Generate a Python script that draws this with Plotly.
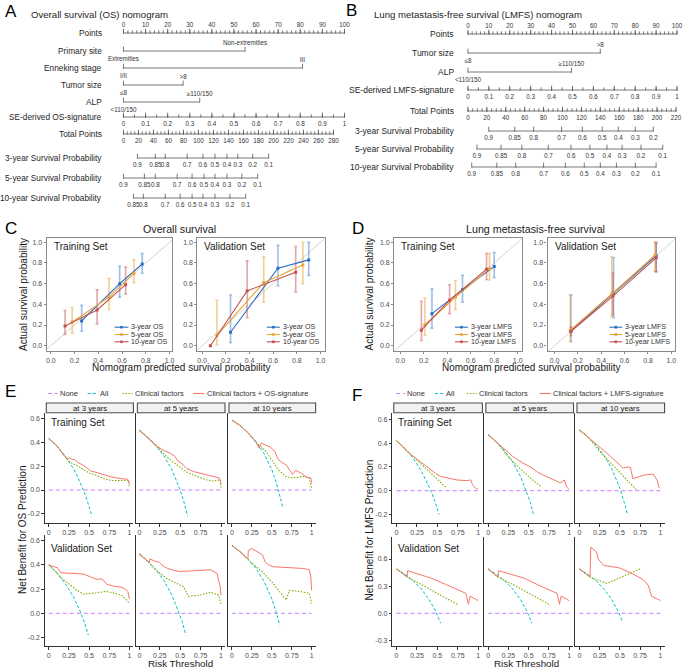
import plotly.graph_objects as go

W, H = 685, 668
FONT = "Arial, Liberation Sans, Helvetica, sans-serif"

# ============================ DATA ============================
# ---- Panel A : Overall survival (OS) nomogram ----
A_POINTS_TICKS = [0, 10, 20, 30, 40, 50, 60, 70, 80, 90, 100]
A_PRIMARY_LEVELS = ["Extremities", "Non-extremities"]
A_PRIMARY_POINTS = [0, 55]
A_ENNEKING_LEVELS = ["I/II", "III"]
A_ENNEKING_POINTS = [0, 81]
A_TUMOR_LEVELS = ["≤8", ">8"]
A_TUMOR_POINTS = [0, 27]
A_ALP_LEVELS = ["<110/150", "≥110/150"]
A_ALP_POINTS = [0, 34.5]
A_SIG_TICKS = [0, 0.1, 0.2, 0.3, 0.4, 0.5, 0.6, 0.7, 0.8, 0.9, 1]
A_SIG_LABELS = ["0", "0.1", "0.2", "0.3", "0.4", "0.5", "0.6", "0.7", "0.8", "0.9", "1"]
A_TOTAL_TICKS = [0, 20, 40, 60, 80, 100, 120, 140, 160, 180, 200, 220, 240, 260, 280]
A_SURV_3Y_LABELS = ["0.9", "0.85", "0.8", "0.7", "0.6", "0.5", "0.4", "0.3", "0.2", "0.1"]
A_SURV_3Y_TOTAL = [18.6, 42.4, 55.7, 84.9, 106, 122, 138, 152.5, 172.4, 193.6]
A_SURV_5Y_LABELS = ["0.9", "0.85", "0.8", "0.7", "0.6", "0.5", "0.4", "0.3", "0.2", "0.1"]
A_SURV_5Y_TOTAL = [0, 27.9, 42.4, 71.6, 91.5, 107.4, 122, 138, 157.8, 179]
A_SURV_10Y_LABELS = ["0.85", "0.8", "0.7", "0.6", "0.5", "0.4", "0.3", "0.2", "0.1"]
A_SURV_10Y_TOTAL = [13.3, 26.5, 55.7, 75.6, 91.5, 106, 122, 142, 163]

# ---- Panel B : Lung metastasis-free survival (LMFS) nomogram ----
B_POINTS_TICKS = [0, 10, 20, 30, 40, 50, 60, 70, 80, 90, 100]
B_TUMOR_LEVELS = ["≤8", ">8"]
B_TUMOR_POINTS = [0, 63.3]
B_ALP_LEVELS = ["<110/150", "≥110/150"]
B_ALP_POINTS = [0, 49.5]
B_SIG_TICKS = [0, 0.1, 0.2, 0.3, 0.4, 0.5, 0.6, 0.7, 0.8, 0.9, 1]
B_SIG_LABELS = ["0", "0.1", "0.2", "0.3", "0.4", "0.5", "0.6", "0.7", "0.8", "0.9", "1"]
B_TOTAL_TICKS = [0, 20, 40, 60, 80, 100, 120, 140, 160, 180, 200, 220]
B_SURV_3Y_LABELS = ["0.9", "0.85", "0.8", "0.7", "0.6", "0.5", "0.4", "0.3", "0.2"]
B_SURV_3Y_TOTAL = [22, 49.5, 69.5, 99, 121, 142, 159, 177, 196]
B_SURV_5Y_LABELS = ["0.9", "0.85", "0.8", "0.7", "0.6", "0.5", "0.4", "0.3", "0.2", "0.1"]
B_SURV_5Y_TOTAL = [9.5, 35, 57, 85, 109, 129, 147, 163, 183, 206]
B_SURV_10Y_LABELS = ["0.9", "0.85", "0.8", "0.7", "0.6", "0.5", "0.4", "0.3", "0.2", "0.1"]
B_SURV_10Y_TOTAL = [4, 30.5, 50.5, 80, 103, 123, 140, 157, 177, 199]

# ---- Panels C / D : calibration curves (series order: 3y, 5y, 10y) ----
CAL_NAMES_OS = ["3-year OS", "5-year OS", "10-year OS"]
CAL_NAMES_LMFS = ["3-year LMFS", "5-year LMFS", "10-year LMFS"]
CAL_TICKS = [0, 0.2, 0.4, 0.6, 0.8, 1.0]

C_TRAIN_PRED = [[0.26, 0.58, 0.77], [0.18, 0.49, 0.70], [0.12, 0.39, 0.63]]
C_TRAIN_OBS = [[0.24, 0.60, 0.79], [0.23, 0.47, 0.70], [0.19, 0.345, 0.59]]
C_TRAIN_LO = [[0.14, 0.47, 0.70], [0.12, 0.35, 0.61], [0.11, 0.21, 0.50]]
C_TRAIN_HI = [[0.39, 0.77, 0.89], [0.37, 0.65, 0.83], [0.34, 0.54, 0.76]]

C_VALID_PRED = [[0.24, 0.64, 0.90], [0.125, 0.52, 0.85], [0.07, 0.38, 0.79]]
C_VALID_OBS = [[0.13, 0.75, 0.83], [0.10, 0.61, 0.78], [0.0, 0.53, 0.71]]
C_VALID_LO = [[0.03, 0.58, 0.68], [0.01, 0.42, 0.60], [0.0, 0.27, 0.52]]
C_VALID_HI = [[0.49, 0.97, 1.0], [0.44, 0.86, 1.0], [0.0, 0.82, 0.96]]

D_TRAIN_PRED = [[0.27, 0.53, 0.80], [0.21, 0.47, 0.76], [0.18, 0.42, 0.735]]
D_TRAIN_OBS = [[0.31, 0.54, 0.765], [0.20, 0.47, 0.745], [0.15, 0.44, 0.74]]
D_TRAIN_LO = [[0.17, 0.42, 0.66], [0.10, 0.35, 0.635], [0.05, 0.31, 0.64]]
D_TRAIN_HI = [[0.55, 0.68, 0.90], [0.46, 0.63, 0.89], [0.43, 0.59, 0.89]]

D_VALID_PRED = [[0.14, 0.505, 0.87], [0.135, 0.49, 0.86], [0.14, 0.50, 0.87]]
D_VALID_OBS = [[0.14, 0.51, 0.87], [0.15, 0.50, 0.875], [0.14, 0.48, 0.85]]
D_VALID_LO = [[0.04, 0.27, 0.72], [0.04, 0.28, 0.72], [0.10, 0.30, 0.71]]
D_VALID_HI = [[0.49, 0.85, 1.0], [0.49, 0.86, 1.0], [0.18, 0.70, 0.99]]

# ---- Panels E / F : decision curves, (risk threshold, net benefit) ----
DCA_FACETS = ["at 3 years", "at 5 years", "at 10 years"]
DCA_X_TICKS = [0, 0.25, 0.5, 0.75, 1]
DCA_X_LABELS = ["0", "0.25", "0.5", "0.75", "1"]
NONE_CURVE = [(0, 0), (1, 0)]

E_TRAIN_ALL = [
    [(0, 0.43), (0.1, 0.367), (0.2, 0.288), (0.3, 0.186), (0.35, 0.123), (0.4, 0.05), (0.45, -0.036), (0.5, -0.14), (0.535, -0.22)],
    [(0, 0.5), (0.1, 0.444), (0.2, 0.375), (0.3, 0.286), (0.4, 0.167), (0.45, 0.09), (0.5, 0.0), (0.55, -0.11), (0.59, -0.22)],
    [(0, 0.585), (0.1, 0.54), (0.2, 0.48), (0.3, 0.407), (0.4, 0.308), (0.5, 0.17), (0.56, 0.057), (0.6, -0.037), (0.64, -0.153)],
]
E_TRAIN_CLIN = [
    [(0, 0.43), (0.1, 0.37), (0.2, 0.28), (0.25, 0.24), (0.3, 0.22), (0.35, 0.205), (0.43, 0.17), (0.51, 0.14), (0.6, 0.12), (0.7, 0.09), (0.78, 0.08), (0.9, 0.08), (0.99, 0.08), (1.0, 0.02)],
    [(0, 0.5), (0.1, 0.44), (0.2, 0.37), (0.3, 0.3), (0.35, 0.27), (0.42, 0.23), (0.5, 0.19), (0.58, 0.15), (0.66, 0.125), (0.75, 0.1), (0.82, 0.085), (0.9, 0.075), (0.99, 0.085), (1.0, 0.02)],
    [(0, 0.585), (0.1, 0.54), (0.2, 0.48), (0.3, 0.40), (0.35, 0.37), (0.43, 0.32), (0.5, 0.25), (0.58, 0.17), (0.68, 0.11), (0.76, 0.10), (0.82, 0.105), (0.89, 0.115), (0.97, 0.10), (1.0, 0.01)],
]
E_TRAIN_COMB = [
    [(0, 0.43), (0.1, 0.37), (0.2, 0.28), (0.23, 0.26), (0.26, 0.27), (0.29, 0.255), (0.32, 0.255), (0.36, 0.23), (0.42, 0.21), (0.48, 0.18), (0.52, 0.16), (0.6, 0.145), (0.7, 0.125), (0.8, 0.105), (0.9, 0.095), (0.98, 0.09), (1.0, 0.05)],
    [(0, 0.5), (0.1, 0.44), (0.2, 0.375), (0.3, 0.33), (0.37, 0.31), (0.44, 0.28), (0.46, 0.25), (0.52, 0.22), (0.58, 0.18), (0.66, 0.155), (0.74, 0.14), (0.82, 0.125), (0.9, 0.11), (0.98, 0.10), (1.0, 0.05)],
    [(0, 0.585), (0.1, 0.54), (0.2, 0.48), (0.3, 0.40), (0.34, 0.35), (0.37, 0.395), (0.42, 0.375), (0.48, 0.36), (0.54, 0.32), (0.58, 0.255), (0.63, 0.23), (0.68, 0.21), (0.74, 0.15), (0.76, 0.13), (0.8, 0.165), (0.84, 0.15), (0.87, 0.14), (0.93, 0.11), (0.99, 0.10), (1.0, 0.055)],
]
E_VALID_ALL = [
    [(0, 0.40), (0.1, 0.333), (0.2, 0.25), (0.3, 0.143), (0.38, 0.03), (0.4, 0.0), (0.45, -0.09), (0.49, -0.18)],
    [(0, 0.49), (0.1, 0.433), (0.2, 0.362), (0.3, 0.271), (0.4, 0.15), (0.48, 0.01), (0.52, -0.06), (0.57, -0.18)],
    [(0, 0.56), (0.1, 0.51), (0.2, 0.45), (0.3, 0.371), (0.4, 0.267), (0.5, 0.12), (0.55, 0.02), (0.6, -0.1)],
]
E_VALID_CLIN = [
    [(0, 0.40), (0.08, 0.35), (0.16, 0.29), (0.25, 0.24), (0.35, 0.19), (0.43, 0.16), (0.55, 0.165), (0.64, 0.175), (0.72, 0.18), (0.82, 0.165), (0.9, 0.15), (0.95, 0.12), (0.98, 0.10), (1.0, 0.08)],
    [(0, 0.49), (0.1, 0.43), (0.2, 0.36), (0.25, 0.33), (0.33, 0.29), (0.42, 0.26), (0.54, 0.22), (0.6, 0.14), (0.67, 0.145), (0.74, 0.15), (0.87, 0.175), (0.97, 0.15), (1.0, 0.08)],
    [(0, 0.56), (0.1, 0.51), (0.19, 0.45), (0.3, 0.39), (0.4, 0.33), (0.5, 0.26), (0.56, 0.21), (0.62, 0.16), (0.68, 0.11), (0.72, 0.19), (0.8, 0.185), (0.9, 0.175), (0.97, 0.165), (1.0, 0.08)],
]
E_VALID_COMB = [
    [(0, 0.40), (0.08, 0.38), (0.11, 0.375), (0.15, 0.335), (0.25, 0.33), (0.43, 0.325), (0.52, 0.30), (0.6, 0.28), (0.66, 0.285), (0.72, 0.24), (0.8, 0.225), (0.9, 0.215), (0.95, 0.20), (0.98, 0.18), (1.0, 0.12)],
    [(0, 0.49), (0.1, 0.43), (0.12, 0.42), (0.13, 0.45), (0.19, 0.43), (0.25, 0.42), (0.29, 0.39), (0.35, 0.37), (0.42, 0.355), (0.5, 0.345), (0.7, 0.35), (0.87, 0.36), (0.95, 0.33), (0.99, 0.22), (1.0, 0.15)],
    [(0, 0.56), (0.1, 0.51), (0.2, 0.45), (0.205, 0.52), (0.25, 0.535), (0.32, 0.51), (0.38, 0.485), (0.42, 0.42), (0.46, 0.40), (0.52, 0.385), (0.72, 0.38), (0.9, 0.37), (0.97, 0.36), (0.99, 0.30), (1.0, 0.19)],
]
F_TRAIN_ALL = [
    [(0, 0.42), (0.1, 0.356), (0.2, 0.275), (0.3, 0.171), (0.42, 0.0), (0.47, -0.09), (0.52, -0.2)],
    [(0, 0.47), (0.1, 0.411), (0.2, 0.338), (0.3, 0.243), (0.4, 0.117), (0.47, 0.0), (0.52, -0.1), (0.56, -0.2)],
    [(0, 0.51), (0.1, 0.456), (0.2, 0.388), (0.3, 0.30), (0.4, 0.183), (0.5, 0.02), (0.55, -0.09), (0.59, -0.19)],
]
F_TRAIN_CLIN = [
    [(0, 0.42), (0.1, 0.355), (0.24, 0.27), (0.38, 0.18), (0.5, 0.10), (0.6, 0.03)],
    [(0, 0.47), (0.1, 0.41), (0.23, 0.30), (0.4, 0.18), (0.55, 0.09), (0.66, 0.03)],
    [(0, 0.51), (0.1, 0.455), (0.25, 0.33), (0.46, 0.18), (0.6, 0.08), (0.7, 0.01)],
]
F_TRAIN_COMB = [
    [(0, 0.42), (0.13, 0.33), (0.24, 0.27), (0.34, 0.215), (0.42, 0.17), (0.48, 0.145), (0.54, 0.12), (0.64, 0.105), (0.74, 0.09), (0.85, 0.085), (0.91, 0.09), (0.93, 0.05), (0.97, 0.02), (1.0, 0.01)],
    [(0, 0.47), (0.1, 0.41), (0.2, 0.35), (0.3, 0.29), (0.42, 0.235), (0.47, 0.22), (0.52, 0.20), (0.6, 0.16), (0.68, 0.13), (0.8, 0.095), (0.89, 0.065), (0.94, 0.09), (0.97, 0.03), (1.0, 0.01)],
    [(0, 0.51), (0.1, 0.455), (0.21, 0.39), (0.38, 0.29), (0.54, 0.19), (0.6, 0.20), (0.63, 0.195), (0.66, 0.10), (0.72, 0.115), (0.79, 0.13), (0.91, 0.14), (0.96, 0.09), (0.98, 0.03), (1.0, 0.02)],
]
F_VALID_ALL = [
    [(0, 0.49), (0.1, 0.433), (0.2, 0.3625), (0.3, 0.271), (0.4, 0.15), (0.48, 0.02), (0.54, -0.11)],
    [(0, 0.49), (0.1, 0.433), (0.2, 0.3625), (0.3, 0.271), (0.4, 0.15), (0.48, 0.02), (0.54, -0.11)],
    [(0, 0.49), (0.1, 0.433), (0.2, 0.3625), (0.3, 0.271), (0.4, 0.15), (0.48, 0.02), (0.53, -0.09)],
]
F_VALID_CLIN = [
    [(0, 0.49), (0.13, 0.40), (0.3, 0.32), (0.5, 0.22), (0.65, 0.15), (0.76, 0.09)],
    [(0, 0.49), (0.12, 0.40), (0.3, 0.32), (0.5, 0.22), (0.65, 0.15), (0.77, 0.09)],
    [(0, 0.49), (0.13, 0.40), (0.34, 0.33), (0.55, 0.41), (0.75, 0.49)],
]
F_VALID_COMB = [
    [(0, 0.49), (0.13, 0.40), (0.135, 0.47), (0.25, 0.44), (0.42, 0.39), (0.6, 0.32), (0.75, 0.26), (0.85, 0.22), (0.88, 0.10), (0.9, 0.19), (1.0, 0.14)],
    [(0, 0.49), (0.12, 0.40), (0.13, 0.47), (0.25, 0.44), (0.44, 0.39), (0.6, 0.32), (0.75, 0.26), (0.85, 0.22), (0.88, 0.10), (0.9, 0.19), (1.0, 0.14)],
    [(0, 0.49), (0.13, 0.40), (0.14, 0.73), (0.21, 0.68), (0.23, 0.60), (0.3, 0.53), (0.5, 0.50), (0.65, 0.44), (0.79, 0.37), (0.85, 0.31), (0.89, 0.19), (1.0, 0.14)],
]

# ============================ STYLE ============================
NOMO_GRAY = "#555555"
TXT = "#1a1a1a"
TICK_TXT = "#4d4d4d"
FRAME = "#8a8a8a"
CAL_COLORS = ["#2a6fc2", "#e9a43a", "#c5504d"]
CAL_BAR_COLORS = ["rgba(42,111,194,0.45)", "rgba(233,164,58,0.55)", "rgba(197,80,77,0.5)"]
C_NONE, C_ALL, C_CLIN, C_COMB = "#C77CFF", "#00BFC4", "#7CAE00", "#F8766D"
D_NONE, D_ALL, D_CLIN = "4px,3px", "3px,2px", "1.5px,1.5px"


def fx(p):
    return p / W


def fy(p):
    return 1 - p / H


def lin_range(v0, p0, v1, p1, d0, d1):
    k = (v1 - v0) / (p1 - p0)
    return [v0 + (d0 - p0) * k, v0 + (d1 - p0) * k]


fig = go.Figure()
axes = {}
shapes = []
annots = []
count = [0]


def new_axes(dx, dy, xr, yr):
    """dx=(left,right) px, dy=(top,bottom) px"""
    count[0] += 1
    s = "" if count[0] == 1 else str(count[0])
    xa = dict(domain=[max(0, fx(dx[0])), min(1, fx(dx[1]))], range=xr, anchor="y" + s, visible=False, fixedrange=True)
    ya = dict(domain=[max(0, fy(dy[1])), min(1, fy(dy[0]))], range=yr, anchor="x" + s, visible=False, fixedrange=True)
    axes["xaxis" + s] = xa
    axes["yaxis" + s] = ya
    return "x" + s, "y" + s, xa, ya


def text_ann(x, y, text, size, color=TXT, xanchor="center", yanchor="middle", angle=0):
    annots.append(dict(x=fx(x), y=fy(y), xref="paper", yref="paper", text=text, showarrow=False,
                       xanchor=xanchor, yanchor=yanchor, textangle=angle, borderpad=0,
                       font=dict(family=FONT, size=size, color=color)))


# ============================ NOMOGRAMS ============================
def nomo_line(xa, ya, x0, x1, y):
    fig.add_trace(go.Scatter(x=[x0, x1], y=[y, y], mode="lines", xaxis=xa, yaxis=ya,
                             line=dict(color=NOMO_GRAY, width=0.8), hoverinfo="skip", cliponaxis=False))


def nomo_ticks(xa, ya, xs, y, size):
    fig.add_trace(go.Scatter(x=xs, y=[y - size / 2.0] * len(xs), mode="markers", xaxis=xa, yaxis=ya,
                             marker=dict(symbol="line-ns-open", size=size, color=NOMO_GRAY,
                                         line=dict(color=NOMO_GRAY, width=0.8)),
                             hoverinfo="skip", cliponaxis=False))


def nomo_text(xa, ya, xs, ys, labels, size=6.3):
    fig.add_trace(go.Scatter(x=xs, y=ys, text=labels, mode="text", textposition="middle center",
                             xaxis=xa, yaxis=ya, textfont=dict(family=FONT, size=size, color="#333333"),
                             hoverinfo="skip", cliponaxis=False))


def nomo_points_row(xa, ya, y, ticks):
    nomo_line(xa, ya, ticks[0], ticks[-1], y)
    minor = [v for v in range(int(ticks[0]), int(ticks[-1]) + 1, 2)]
    nomo_ticks(xa, ya, minor, y, 2.2)
    nomo_ticks(xa, ya, ticks, y, 3.6)
    nomo_text(xa, ya, ticks, [y - 7.5] * len(ticks), [str(t) for t in ticks])


def nomo_factor_row(xa, ya, y, levels, points):
    nomo_line(xa, ya, min(points), max(points), y)
    nomo_ticks(xa, ya, points, y, 3.6)
    ys = [y + 8 if i % 2 == 0 else y - 7.5 for i in range(len(points))]
    nomo_text(xa, ya, points, ys, levels)


def nomo_scale_row(xa, ya, y, values, labels, to_points, minor_step=None):
    xs = [v * to_points for v in values]
    nomo_line(xa, ya, min(xs), max(xs), y)
    if minor_step:
        n = int(round((max(values) - min(values)) / minor_step))
        minor = [(min(values) + i * minor_step) * to_points for i in range(n + 1)]
        nomo_ticks(xa, ya, minor, y, 2.2)
    nomo_ticks(xa, ya, xs, y, 3.6)
    nomo_text(xa, ya, xs, [y + 7.5] * len(xs), labels)


# ---- A ----
xa, ya, _, _ = new_axes((0, 345), (0, 215), lin_range(0, 123, 100, 345, 0, 345), [215, 0])
A_TOTAL_TO_POINTS = 95.0 / 280.0
RA = dict(points=33, primary=51, enneking=68, tumor=85, alp=102, sig=117, total=134, s3=158, s5=178, s10=198)
nomo_points_row(xa, ya, RA["points"], A_POINTS_TICKS)
nomo_factor_row(xa, ya, RA["primary"], A_PRIMARY_LEVELS, A_PRIMARY_POINTS)
nomo_factor_row(xa, ya, RA["enneking"], A_ENNEKING_LEVELS, A_ENNEKING_POINTS)
nomo_factor_row(xa, ya, RA["tumor"], A_TUMOR_LEVELS, A_TUMOR_POINTS)
nomo_factor_row(xa, ya, RA["alp"], A_ALP_LEVELS, A_ALP_POINTS)
nomo_scale_row(xa, ya, RA["sig"], A_SIG_TICKS, A_SIG_LABELS, 100.0, 0.05)
nomo_scale_row(xa, ya, RA["total"], A_TOTAL_TICKS, [str(t) for t in A_TOTAL_TICKS], A_TOTAL_TO_POINTS, 5)
nomo_scale_row(xa, ya, RA["s3"], A_SURV_3Y_TOTAL, A_SURV_3Y_LABELS, A_TOTAL_TO_POINTS)
nomo_scale_row(xa, ya, RA["s5"], A_SURV_5Y_TOTAL, A_SURV_5Y_LABELS, A_TOTAL_TO_POINTS)
nomo_scale_row(xa, ya, RA["s10"], A_SURV_10Y_TOTAL, A_SURV_10Y_LABELS, A_TOTAL_TO_POINTS)
for key, lab in [("points", "Points"), ("primary", "Primary site"), ("enneking", "Enneking stage"),
                 ("tumor", "Tumor size"), ("alp", "ALP"), ("sig", "SE-derived OS-signature"),
                 ("total", "Total Points"), ("s3", "3-year Survival Probability"),
                 ("s5", "5-year Survival Probability"), ("s10", "10-year Survival Probability")]:
    text_ann(102.5, RA[key], lab, 8.3, "#262626", xanchor="right")
text_ann(3, 11.5, "A", 17, "#000000", xanchor="left")
text_ann(29, 14.5, "Overall survival (OS) nomogram", 9.6, "#262626", xanchor="left")

# ---- B ----
xa, ya, _, _ = new_axes((345, 685), (0, 215), lin_range(0, 469, 100, 679, 345, 685), [215, 0])
B_TOTAL_TO_POINTS = 99.5 / 220.0
RB = dict(points=34, tumor=53, alp=72, sig=90, total=111, s3=131, s5=149, s10=167)
nomo_points_row(xa, ya, RB["points"], B_POINTS_TICKS)
nomo_factor_row(xa, ya, RB["tumor"], B_TUMOR_LEVELS, B_TUMOR_POINTS)
nomo_factor_row(xa, ya, RB["alp"], B_ALP_LEVELS, B_ALP_POINTS)
nomo_scale_row(xa, ya, RB["sig"], B_SIG_TICKS, B_SIG_LABELS, 100.0, 0.05)
nomo_scale_row(xa, ya, RB["total"], B_TOTAL_TICKS, [str(t) for t in B_TOTAL_TICKS], B_TOTAL_TO_POINTS, 5)
nomo_scale_row(xa, ya, RB["s3"], B_SURV_3Y_TOTAL, B_SURV_3Y_LABELS, B_TOTAL_TO_POINTS)
nomo_scale_row(xa, ya, RB["s5"], B_SURV_5Y_TOTAL, B_SURV_5Y_LABELS, B_TOTAL_TO_POINTS)
nomo_scale_row(xa, ya, RB["s10"], B_SURV_10Y_TOTAL, B_SURV_10Y_LABELS, B_TOTAL_TO_POINTS)
for key, lab in [("points", "Points"), ("tumor", "Tumor size"), ("alp", "ALP"),
                 ("sig", "SE-derived LMFS-signature"), ("total", "Total Points"),
                 ("s3", "3-year Survival Probability"), ("s5", "5-year Survival Probability"),
                 ("s10", "10-year Survival Probability")]:
    text_ann(455.5, RB[key], lab, 8.5, "#262626", xanchor="right")
text_ann(346, 10.5, "B", 17, "#000000", xanchor="left")
text_ann(374, 15, "Lung metastasis-free survival (LMFS) nomogram", 9.6, "#262626", xanchor="left")

# ============================ CALIBRATION ============================
CAL_TOP, CAL_BOT = 237.5, 351


def cal_panel(xdom, x0p, x1p, pred, obs, lo, hi, names, set_label, legend_x):
    xr = lin_range(0, x0p, 1, x1p, xdom[0], xdom[1])
    yr = lin_range(0, 345.7, 1, 242.3, CAL_BOT, CAL_TOP)
    xa, ya, xd, yd = new_axes(xdom, (CAL_TOP, CAL_BOT), xr, yr)
    common = dict(visible=True, showline=True, mirror=True, linecolor=FRAME, linewidth=1.3,
                  ticks="outside", ticklen=2, tickwidth=0.8, tickcolor=FRAME, showgrid=False,
                  zeroline=False, tickfont=dict(family=FONT, size=7, color=TICK_TXT),
                  tickvals=CAL_TICKS, ticktext=["%.1f" % t for t in CAL_TICKS])
    xd.update(common)
    yd.update(common)
    fig.add_trace(go.Scatter(x=[-0.2, 1.2], y=[-0.2, 1.2], mode="lines", xaxis=xa, yaxis=ya,
                             line=dict(color="#c8c8c8", width=0.8), hoverinfo="skip"))
    for i in range(3):
        fig.add_trace(go.Scatter(
            x=pred[i], y=obs[i], mode="markers", xaxis=xa, yaxis=ya, hoverinfo="skip",
            marker=dict(size=1, opacity=0),
            error_y=dict(type="data", symmetric=False,
                         array=[h - o for h, o in zip(hi[i], obs[i])],
                         arrayminus=[o - l for o, l in zip(obs[i], lo[i])],
                         color=CAL_BAR_COLORS[i], thickness=1.6, width=1.5)))
    for i in range(3):
        fig.add_trace(go.Scatter(x=pred[i], y=obs[i], mode="lines+markers", xaxis=xa, yaxis=ya,
                                 line=dict(color=CAL_COLORS[i], width=1.1),
                                 marker=dict(color=CAL_COLORS[i], size=3, symbol="square"),
                                 hoverinfo="skip", name=names[i]))
    text_ann(xdom[0] + 6, 246.5, set_label, 10, TXT, xanchor="left")
    lx0, lx1 = legend_x
    for i, yv in enumerate([327.2, 334.5, 341.8]):
        shapes.append(dict(type="line", xref="paper", yref="paper", x0=fx(lx0), x1=fx(lx1),
                           y0=fy(yv), y1=fy(yv), line=dict(color=CAL_COLORS[i], width=1.1)))
        cx = (lx0 + lx1) / 2
        shapes.append(dict(type="rect", xref="paper", yref="paper", x0=fx(cx - 1.3), x1=fx(cx + 1.3),
                           y0=fy(yv + 1.3), y1=fy(yv - 1.3), fillcolor=CAL_COLORS[i], line=dict(width=0)))
        text_ann(lx1 + 2, yv, names[i], 7.1, "#333333", xanchor="left")


cal_panel((46, 172), 50, 169.3, C_TRAIN_PRED, C_TRAIN_OBS, C_TRAIN_LO, C_TRAIN_HI, CAL_NAMES_OS, "Training Set", (114, 128))
cal_panel((197.3, 325), 202, 321, C_VALID_PRED, C_VALID_OBS, C_VALID_LO, C_VALID_HI, CAL_NAMES_OS, "Validation Set", (267, 280))
cal_panel((395, 523.3), 401, 519, D_TRAIN_PRED, D_TRAIN_OBS, D_TRAIN_LO, D_TRAIN_HI, CAL_NAMES_LMFS, "Training Set", (456, 469))
cal_panel((549, 676.7), 556, 673.3, D_VALID_PRED, D_VALID_OBS, D_VALID_LO, D_VALID_HI, CAL_NAMES_LMFS, "Validation Set", (611, 624))

text_ann(3, 228, "C", 17, "#000000", xanchor="left")
text_ann(179, 229, "Overall survival", 10.7, TXT)
text_ann(22, 294, "Actual survival probability", 10, TXT, angle=-90)
text_ann(181, 367, "Nomogram predicted survival probability", 10, TXT)
text_ann(352, 228, "D", 17, "#000000", xanchor="left")
text_ann(537, 229, "Lung metastasis-free survival", 10.7, TXT)
text_ann(370, 294, "Actual survival probability", 10, TXT, angle=-90)
text_ann(532, 367, "Nomogram predicted survival probability", 10, TXT)

# ============================ DECISION CURVES ============================
AXC = "#333333"


def dca_panel(xdom, xmap, ydom, ymap, yticks, show_y, curves_all, curves_clin, curves_comb):
    xr = lin_range(0, xmap[0], 1, xmap[1], xdom[0], xdom[1])
    yr = lin_range(0, ymap[0], ymap[2], ymap[1], ydom[1], ydom[0])
    xa, ya, xd, yd = new_axes(xdom, ydom, xr, yr)
    xd.update(visible=True, showline=True, linecolor=AXC, linewidth=1, ticks="outside", ticklen=2.5,
              tickwidth=0.8, tickcolor=AXC, showgrid=False, zeroline=False,
              tickvals=DCA_X_TICKS, ticktext=DCA_X_LABELS,
              tickfont=dict(family=FONT, size=7, color=TICK_TXT))
    yd.update(visible=True, showline=True, linecolor=AXC, linewidth=1, showgrid=False, zeroline=False,
              ticks="outside" if show_y else "", ticklen=2.5, tickwidth=0.8, tickcolor=AXC,
              showticklabels=show_y, tickvals=yticks, ticktext=["%.1f" % t for t in yticks],
              tickfont=dict(family=FONT, size=7, color=TICK_TXT))
    for pts, col, dash, wid in [(NONE_CURVE, C_NONE, D_NONE, 1.0), (curves_all, C_ALL, D_ALL, 1.0),
                                (curves_clin, C_CLIN, D_CLIN, 1.1), (curves_comb, C_COMB, "solid", 1.0)]:
        fig.add_trace(go.Scatter(x=[p[0] for p in pts], y=[p[1] for p in pts], mode="lines",
                                 xaxis=xa, yaxis=ya, line=dict(color=col, width=wid, dash=dash),
                                 hoverinfo="skip"))


def dca_block(xdoms, xmaps, train_all, train_clin, train_comb, valid_all, valid_clin, valid_comb,
              train_ymap, valid_ydom, valid_ymap, valid_ticks):
    for j in range(3):
        dca_panel(xdoms[j], xmaps[j], (413, 523.3), train_ymap, [-0.2, 0.0, 0.2, 0.4, 0.6], j == 0,
                  train_all[j], train_clin[j], train_comb[j])
        dca_panel(xdoms[j], xmaps[j], valid_ydom, valid_ymap, valid_ticks, j == 0,
                  valid_all[j], valid_clin[j], valid_comb[j])
        shapes.append(dict(type="rect", xref="paper", yref="paper", x0=fx(xdoms[j][0] + 1.5), x1=fx(xdoms[j][1]),
                           y0=fy(412.7), y1=fy(403), fillcolor="#f2f2f2", line=dict(color="#4d4d4d", width=1.1)))
        text_ann((xdoms[j][0] + 1.5 + xdoms[j][1]) / 2, 408, DCA_FACETS[j], 7.8, TXT)
    text_ann(xdoms[0][0] + 5, 422, "Training Set", 10, TXT, xanchor="left")
    text_ann(xdoms[0][0] + 5, 548, "Validation Set", 10, TXT, xanchor="left")


def dca_legend(items, y=393.5):
    for (sx0, sx1, tx, label, col, dash) in items:
        shapes.append(dict(type="line", xref="paper", yref="paper", x0=fx(sx0), x1=fx(sx1), y0=fy(y), y1=fy(y),
                           line=dict(color=col, width=1.1, dash=dash)))
        text_ann(tx, y, label, 7.5, "#333333", xanchor="left")


E_XDOMS = [(44, 133), (135.5, 225), (227.5, 316)]
E_XMAPS = [(48, 129), (139, 221), (232, 312)]
dca_block(E_XDOMS, E_XMAPS, E_TRAIN_ALL, E_TRAIN_CLIN, E_TRAIN_COMB, E_VALID_ALL, E_VALID_CLIN, E_VALID_COMB,
          (490, 418.3, 0.6), (535, 646), (613.3, 540.7, 0.6), [-0.2, 0.0, 0.2, 0.4, 0.6])
F_XDOMS = [(393, 483.5), (485.5, 575), (577, 666.5)]
F_XMAPS = [(397.3, 479.3), (489.3, 570.7), (581, 662.3)]
dca_block(F_XDOMS, F_XMAPS, F_TRAIN_ALL, F_TRAIN_CLIN, F_TRAIN_COMB, F_VALID_ALL, F_VALID_CLIN, F_VALID_COMB,
          (490.7, 419.3, 0.6), (537, 646), (613.3, 559, 0.6), [-0.3, 0.0, 0.3, 0.6])

dca_legend([(47, 57, 58, "None", C_NONE, D_NONE), (87, 97, 98, "All", C_ALL, D_ALL),
            (122, 132, 133.5, "Clinical factors", C_CLIN, D_CLIN),
            (193, 204, 205.5, "Clinical factors + OS-signature", C_COMB, "solid")])
dca_legend([(397, 406, 407, "None", C_NONE, D_NONE), (436, 445, 446, "All", C_ALL, D_ALL),
            (468, 478, 479.5, "Clinical factors", C_CLIN, D_CLIN),
            (541, 552, 553.5, "Clinical factors + LMFS-signature", C_COMB, "solid")])

text_ann(3, 391, "E", 17, "#000000", xanchor="left")
text_ann(352, 395, "F", 17, "#000000", xanchor="left")
text_ann(21, 530, "Net Benefit for OS Prediction", 10, TXT, angle=-90)
text_ann(370, 530, "Net Benefit for LMFS Prediction", 10, TXT, angle=-90)
text_ann(180, 663.5, "Risk Threshold", 9.8, TXT)
text_ann(528, 663.5, "Risk Threshold", 9.8, TXT)

fig.update_layout(width=W, height=H, margin=dict(l=0, r=0, t=0, b=0), showlegend=False,
                  paper_bgcolor="white", plot_bgcolor="rgba(0,0,0,0)",
                  font=dict(family=FONT, color=TXT), shapes=shapes, annotations=annots, **axes)
# remove the browser's default 8px page margin so the figure sits at the window's top-left corner
fig.write_html("out.html", config={"displayModeBar": False},
               post_script="document.body.style.margin='0';document.documentElement.style.overflow='hidden';")
